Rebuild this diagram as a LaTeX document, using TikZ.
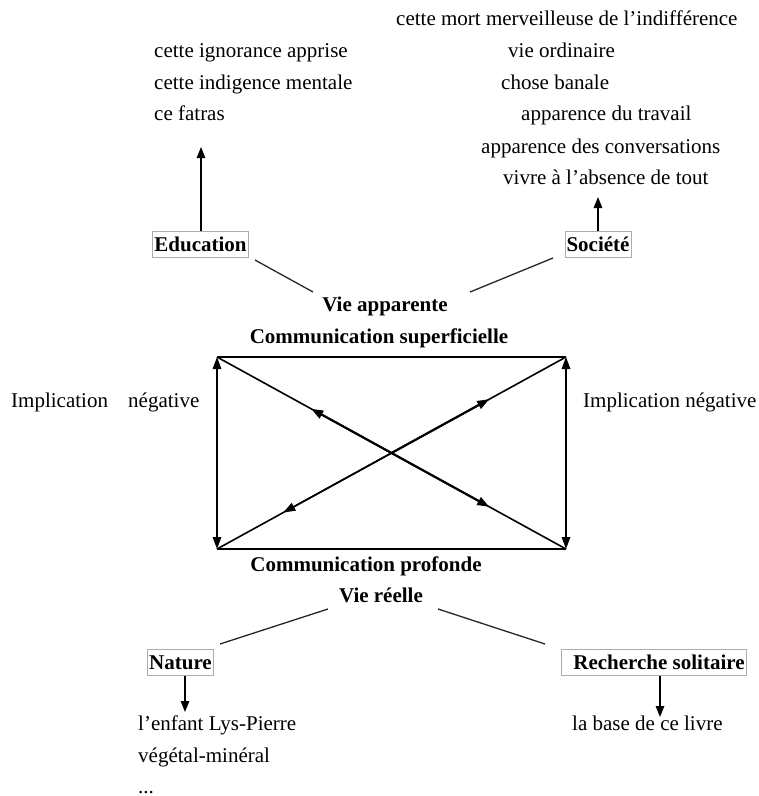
\documentclass[tikz,border=0pt]{standalone}
\usepackage{fontspec}
\setmainfont{Liberation Serif}
\usetikzlibrary{arrows.meta,calc}
\begin{document}
\begin{tikzpicture}[x=1pt,y=-1pt,
  lbl/.style={font=\fontsize{21}{24}\selectfont, inner sep=0pt, anchor=mid west},
  blbl/.style={font=\fontsize{21}{24}\selectfont\bfseries, inner sep=0pt, anchor=mid},
  boxn/.style={draw=gray!65, line width=0.9pt, font=\fontsize{21}{24}\selectfont\bfseries, inner xsep=1.5pt, inner ysep=0pt, minimum height=26pt},
  arr/.style={line width=1.4pt, -{Triangle[length=11pt,width=8.5pt]}},
  link/.style={line width=1.3pt, draw=black!85},
  side/.style={line width=1.7pt, {Triangle[length=12pt,width=8.5pt]}-{Triangle[length=12pt,width=8.5pt]}},
  edge/.style={line width=2.4pt},
  diag/.style={line width=1.6pt},
  midarr/.style={line width=2.2pt, -{Triangle[length=12pt,width=8.5pt]}},
  midarrthin/.style={line width=1.6pt, -{Triangle[length=12pt,width=8.5pt]}}
]
\useasboundingbox (0,0) rectangle (759,796);
\clip (0,0) rectangle (759,796);

% top-left texts
\node[lbl] (e1) at (154,55) {cette ignorance apprise};
\node[lbl] (e2) at (154,87) {cette indigence mentale};
\node[lbl] (e3) at (154,118) {ce fatras};

% top-right texts
\node[lbl] (s0) at (396,23) {cette mort merveilleuse de l’indifférence};
\node[lbl] (s1) at (508,55) {vie ordinaire};
\node[lbl] (s2) at (501,87) {chose banale};
\node[lbl] (s3) at (521,118) {apparence du travail};
\node[lbl] (s4) at (481,151) {apparence des conversations};
\node[lbl] (s5) at (503,182) {vivre à l’absence de tout};

% boxes top
\node[boxn] (edu) at (200.5,244) {Education};
\node[boxn] (soc) at (598,244) {Société};
\coordinate (eduT) at (201,147);
\coordinate (socT) at (598,197);
\draw[arr] (edu.north -| eduT) -- (eduT);
\draw[arr] (soc.north -| socT) -- (socT);

% center titles
\node[blbl] (va) at (385,309) {Vie apparente};
\node[blbl] (cs) at (379,341) {Communication superficielle};
\coordinate (l1a) at (255,260); \coordinate (l1b) at (313,292);
\coordinate (l2a) at (553,258); \coordinate (l2b) at (470,292);
\draw[link] (l1a) -- (l1b);
\draw[link] (l2a) -- (l2b);

% rectangle
\coordinate (tl) at (217,357);
\coordinate (tr) at (566,357);
\coordinate (bl) at (217,549);
\coordinate (br) at (566,549);
\coordinate (ctr) at (391.5,453);
\draw[edge] (tl) -- (tr);
\draw[edge] (bl) -- (br);
\draw[side] (tl) -- (bl);
\draw[side] (tr) -- (br);
\draw[diag] (tl) -- (br);
\draw[diag] (bl) -- (tr);
\draw[midarr] (ctr) -- ($(tl)!0.27!(br)$);
\draw[midarr] (ctr) -- ($(tl)!0.78!(br)$);
\draw[midarr] (ctr) -- ($(bl)!0.78!(tr)$);
\draw[midarrthin] (ctr) -- ($(bl)!0.19!(tr)$);

% side labels
\node[lbl] (il1) at (11,405) {Implication};
\node[lbl] (il2) at (128,405) {négative};
\node[lbl] (ir) at (583,405) {Implication négative};

% bottom titles
\node[blbl] (cp) at (366,569) {Communication profonde};
\node[blbl] (vr) at (381,600) {Vie réelle};
\coordinate (l3a) at (328,609); \coordinate (l3b) at (220,644);
\coordinate (l4a) at (438,609); \coordinate (l4b) at (545,644);
\draw[link] (l3a) -- (l3b);
\draw[link] (l4a) -- (l4b);

% bottom boxes
\node[boxn] (nat) at (180.5,662.5) {Nature};
\node[boxn] (rech) at (654,662.5) {\hspace*{10pt}Recherche solitaire};
\coordinate (natT) at (185,712);
\coordinate (rechT) at (660,717);
\draw[arr] (nat.south -| natT) -- (natT);
\draw[arr] (rech.south -| rechT) -- (rechT);

\node[lbl] (n1) at (138,728) {l’enfant Lys-Pierre};
\node[lbl] (n2) at (138,760) {végétal-minéral};
\node[font=\fontsize{21}{24}\selectfont, inner sep=0pt, anchor=base west] (n3) at (138,793) {...};
\node[lbl] (r1) at (572,728) {la base de ce livre};
\end{tikzpicture}
\end{document}
